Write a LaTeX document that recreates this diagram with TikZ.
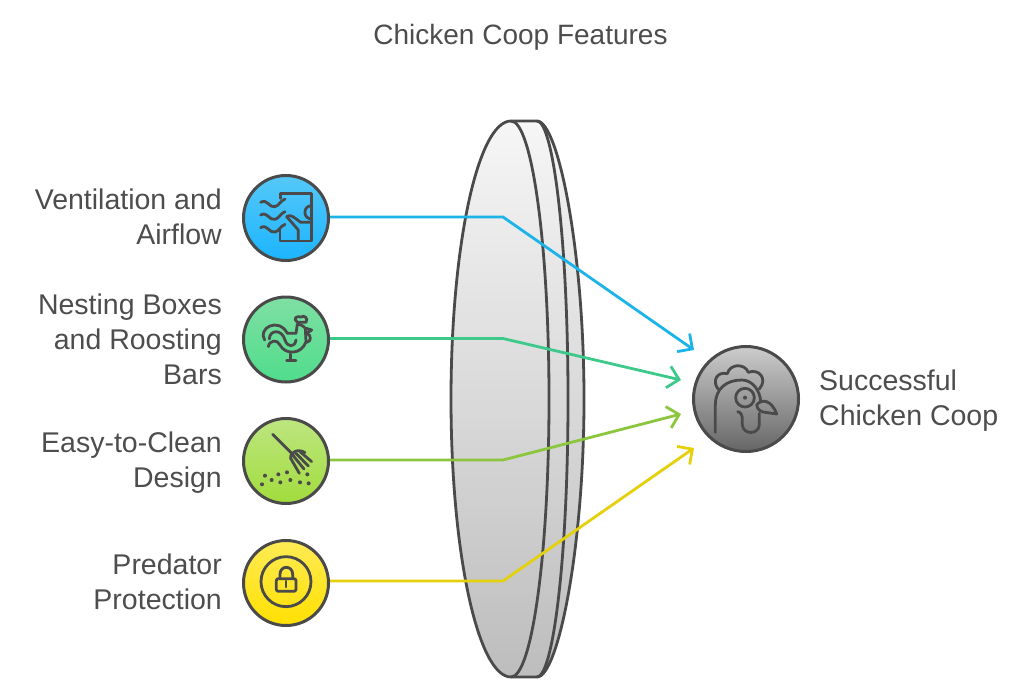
\documentclass[tikz,border=0pt]{standalone}
\usepackage{fontspec}
\setmainfont{Liberation Sans}
\usetikzlibrary{arrows.meta}
\definecolor{ink}{HTML}{4A4A4A}
\definecolor{txt}{HTML}{4D4D4D}
\definecolor{wblue}{HTML}{1CB4E8}
\definecolor{wgreen}{HTML}{3CC98A}
\definecolor{wlime}{HTML}{8CC63F}
\definecolor{wyellow}{HTML}{E5D00C}
\definecolor{bt}{HTML}{55C8F8}\definecolor{bb}{HTML}{1CB4FF}
\definecolor{gt}{HTML}{7FDFA3}\definecolor{gb}{HTML}{50DD8C}
\definecolor{lt}{HTML}{BDE680}\definecolor{lb}{HTML}{A2DC3D}
\definecolor{yt}{HTML}{FFEB55}\definecolor{yb}{HTML}{FFE000}
\definecolor{st}{HTML}{CCCCCC}\definecolor{sb}{HTML}{666666}
\definecolor{lenst}{HTML}{F6F6F6}\definecolor{lensb}{HTML}{BDBDBD}
\tikzset{
  lab/.style={font=\fontsize{28.5}{35}\selectfont,text=txt,inner sep=0pt},
  disc/.style={circle,draw=ink,line width=3pt,minimum size=85pt,inner sep=0pt},
  wire/.style={line width=2.8pt,-{Straight Barb[length=11pt,width=22pt,line width=2.8pt]},line join=miter},
  ico/.style={draw=ink,line width=2.8pt,line cap=round,line join=round},
  lensline/.style={draw=ink,line width=2.8pt,line join=round},
  zoomA/.style={shift={(230,165)},x=0.3333pt,y=-0.3333pt},
  zoomB/.style={shift={(230,405)},x=0.3333pt,y=-0.3333pt},
  zoomC/.style={shift={(670,325)},x=0.3333pt,y=-0.3333pt}
}
\begin{document}
\begin{tikzpicture}[x=1pt,y=-1pt]
\useasboundingbox (0,0) rectangle (1024,696);
\node[lab,font=\fontsize{28}{32}\selectfont] (title) at (520.5,37) {Chicken Coop Features};

% lens
\path[lensline,top color=lenst,bottom color=lensb]
  (511,121) -- (537,121) .. controls (558,121) and (584,250) .. (584,399)
  .. controls (584,548) and (558,677) .. (537,677) -- (511,677)
  .. controls (477.9,677) and (451,552.5) .. (451,399)
  .. controls (451,245.5) and (477.9,121) .. (511,121) -- cycle;
\draw[lensline] (511,121) .. controls (532,121) and (549,245.5) .. (549,399)
  .. controls (549,552.5) and (532,677) .. (511,677);
\draw[lensline] (537,121) .. controls (553,121) and (568,240) .. (568,399)
  .. controls (568,558) and (553,677) .. (537,677);

% discs
\node[disc,top color=bt,bottom color=bb] (v) at (286,218) {};
\node[disc,top color=gt,bottom color=gb] (n) at (286,339.5) {};
\node[disc,top color=lt,bottom color=lb] (e) at (286,461) {};
\node[disc,top color=yt,bottom color=yb] (p) at (286,583) {};
\node[disc,minimum size=105pt,top color=st,bottom color=sb] (s) at (746,399) {};

% labels
\node[lab,anchor=east,align=right] (lv) at (222,217) {Ventilation and\\Airflow};
\node[lab,anchor=east,align=right] (ln) at (222,339) {Nesting Boxes\\and Roosting\\Bars};
\node[lab,anchor=east,align=right] (le) at (222,463) {Easy-to-Clean\\Design};
\node[lab,anchor=east,align=right] (lp) at (222,582) {Predator\\Protection};
\node[lab,anchor=west,align=left] (ls) at (819,401) {Successful\\Chicken Coop};

% connectors
\coordinate (bv) at (503,217); \coordinate (tv) at (694,350);
\coordinate (bn) at (503,338.5); \coordinate (tn) at (681,380);
\coordinate (be) at (503,460); \coordinate (te) at (681,414);
\coordinate (bp) at (503,581); \coordinate (tp) at (694,448);
\draw[wire,color=wblue] (v.east |- bv) -- (bv) -- (tv);
\draw[wire,color=wgreen] (n.east |- bn) -- (bn) -- (tn);
\draw[wire,color=wlime] (e.east |- be) -- (be) -- (te);
\draw[wire,color=wyellow] (p.east |- bp) -- (bp) -- (tp);

% ventilation icon
\begin{scope}[zoomA]
\draw[ico] (152,100) -- (152,85) -- (245,85) -- (245,228) -- (150,228) -- (150,190);
\draw[ico] (245,122) .. controls (218,122) and (218,162) .. (245,162);
\draw[ico] (170,155) -- (205,195) -- (205,228);
\draw[ico] (170,155) .. controls (182,145) and (195,160) .. (212,172) -- (245,172);
\foreach \yy in {0,38,76}{
\draw[ico] (92,112+\yy) .. controls (112,100+\yy) and (118,130+\yy) .. (135,125+\yy) .. controls (148,122+\yy) and (150,108+\yy) .. (165,102+\yy);
}
\end{scope}

% rooster icon
\begin{scope}[zoomA]
\draw[ico] (104,525) .. controls (82,490) and (145,455) .. (172,505) -- (198,505) -- (202,478);
\draw[ico] (118,522) .. controls (118,495) and (155,490) .. (165,525) .. controls (172,548) and (195,548) .. (198,525);
\draw[ico] (115,545) .. controls (118,525) and (142,522) .. (150,540) .. controls (165,570) and (215,570) .. (228,530) -- (226,490) .. controls (218,480) and (208,478) .. (202,478);
\draw[ico] (182,567) -- (182,585) (170,586) -- (198,586);
\draw[ico] (202,472) .. controls (188,460) and (200,452) .. (212,456) .. controls (222,450) and (236,458) .. (228,472) -- (202,472);
\draw[ico] (228,490) -- (245,495) -- (230,505);
\draw[ico] (230,505) .. controls (245,510) and (245,530) .. (230,532);
\end{scope}

% rake icon
\begin{scope}[zoomB]
\draw[ico] (128,88) -- (190,150);
\draw[ico] (182,160) .. controls (180,140) and (205,130) .. (225,143);
\draw[ico] (182,160) -- (208,205) (188,150) -- (222,192) (198,145) -- (235,183) (210,140) -- (245,170);
\foreach \xx/\yy in {105/212,145/208,171/202,232/208,125/225,181/225,151/232,210/232,96/238,236/235}{
\fill[ink] (\xx,\yy) circle[radius=6];
}
\end{scope}

% lock icon
\begin{scope}[zoomB]
\draw[ico] (168,530) circle[radius=75];
\draw[ico,rounded corners=2pt] (139,521) rectangle (198,559);
\draw[ico] (150,521) -- (150,508) .. controls (150,480) and (188,480) .. (188,508) -- (188,521);
\draw[ico] (168,528) -- (168,546);
\end{scope}

% chicken icon
\begin{scope}[zoomC]
\draw[ico] (136,322) -- (136,240) .. controls (136,190) and (170,165) .. (215,165) .. controls (250,165) and (270,200) .. (272,228);
\draw[ico] (145,193) .. controls (125,170) and (140,138) .. (172,146) .. controls (180,115) and (225,115) .. (235,142) .. controls (265,130) and (295,160) .. (268,192);
\draw[ico] (225,218) circle[radius=28];
\fill[ink] (225,218) circle[radius=6];
\draw[ico] (260,240) .. controls (275,220) and (305,225) .. (320,267) -- (285,262) .. controls (275,262) and (262,255) .. (260,240);
\draw[ico] (203,260) .. controls (213,262) and (217,270) .. (217,285) -- (217,300) .. controls (220,330) and (265,330) .. (268,300) -- (268,265);
\end{scope}
\end{tikzpicture}
\end{document}
